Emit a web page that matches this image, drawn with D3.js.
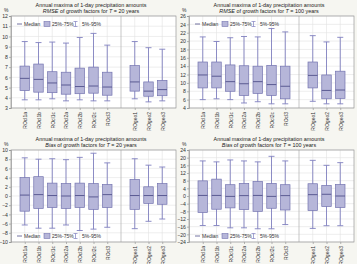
<!DOCTYPE html>
<html>
  <head>
    <meta charset="utf-8" />
    <script src="https://d3js.org/d3.v7.min.js"></script>
    <style>
      body { margin: 0; background: #f6f6f1; }
      svg { display: block; font-family: "Liberation Sans", Arial, sans-serif; }
    </style>
  </head>
  <body>
    <div id="chart"></div>
    <script>
      // categories (slot 8 is left empty as a separator)
      const categories = ["ROcl1a", "ROcl1b", "ROcl1c", "ROcl2a", "ROcl2b", "ROcl2c", "ROcl3", "ROgeo1", "ROgeo2", "ROgeo3"];
      const slots = [1, 2, 3, 4, 5, 6, 7, 9, 10, 11];

      // each row: [5%, 25%, median, 75%, 95%]
      const rmse20 = [
        [3.8, 4.7, 5.9, 7.1, 9.5],
        [3.8, 4.55, 5.8, 7.3, 9.4],
        [3.9, 4.5, 5.45, 6.55, 9.45],
        [3.7, 4.35, 5.25, 6.5, 9.35],
        [3.8, 4.4, 5.1, 6.9, 9.9],
        [3.7, 4.45, 5.15, 7.0, 10.3],
        [3.7, 4.25, 5.05, 6.5, 9.15],
        [3.9, 4.65, 5.55, 7.15, 9.5],
        [3.6, 4.15, 4.65, 5.55, 8.9],
        [3.7, 4.2, 4.8, 5.7, 8.75],
      ];
      const rmse100 = [
        [6, 8.8, 11.9, 15, 21],
        [6.2, 8.8, 11.6, 15, 19.9],
        [6, 8, 10.3, 14.3, 20.8],
        [5.2, 7, 9.8, 14.1, 21.1],
        [5.5, 7.5, 10.3, 14, 21],
        [5, 7, 9.6, 14.2, 23],
        [5, 6.2, 9.2, 14, 22.2],
        [5.6, 8.8, 11.8, 15, 21.3],
        [5, 6.2, 8.2, 11.9, 19.8],
        [5, 6.3, 8.3, 12.8, 20.9],
      ];
      const bias20 = [
        [-6.3, -3.3, 0.2, 4.0, 8.3],
        [-7.0, -2.7, 0.3, 4.2, 8.0],
        [-7.0, -2.5, 0.1, 2.8, 8.1],
        [-6.3, -2.7, 0.0, 2.7, 7.9],
        [-7.5, -2.5, 0.1, 2.8, 8.4],
        [-7.2, -2.9, -0.2, 2.7, 9.3],
        [-6.8, -2.5, 0.3, 2.5, 7.2],
        [-7.1, -2.9, 0.1, 3.6, 8.1],
        [-5.5, -1.6, 0.1, 2.0, 6.7],
        [-5.0, -1.8, 0.1, 2.7, 6.3],
      ];
      const bias100 = [
        [-15.4, -8.6, 0.3, 7.9, 18.3],
        [-15.4, -6.9, 0.3, 8.8, 17.8],
        [-16.6, -6.2, -0.2, 5.9, 18.8],
        [-16.6, -7.1, 0.2, 6.6, 18.3],
        [-17.1, -8.0, 0.3, 7.6, 17.8],
        [-17.1, -6.4, -0.2, 6.6, 20.7],
        [-14.9, -7.3, 0.2, 5.9, 18.3],
        [-16.9, -7.6, 0.7, 6.4, 18.6],
        [-15.5, -5.5, 0.9, 5.5, 16.0],
        [-15.5, -6.0, 0.0, 6.0, 17.4],
      ];

      const panels = [
        { data: rmse20, x: 0, y: 0, domain: [3, 12], ticks: d3.range(3, 13, 1), stat: "RMSE", T: "20", legend: "top" },
        { data: rmse100, x: 178, y: 0, domain: [4, 26], ticks: d3.range(4, 27, 2), stat: "RMSE", T: "100", legend: "top" },
        { data: bias20, x: 0, y: 134, domain: [-10, 10], ticks: d3.range(-10, 11, 2), stat: "Bias", T: "20", legend: "bottom" },
        { data: bias100, x: 178, y: 134, domain: [-24, 24], ticks: d3.range(-24, 25, 4), stat: "Bias", T: "100", legend: "bottom" },
      ];

      const W = 357, H = 264;
      const pw = 165, ph = 92;
      const fill = "#b6b6d9", stroke = "#7474b0", whisk = "#8080c0", med = "#50508a";

      const svg = d3.select("#chart").append("svg").attr("width", W).attr("height", H);

      panels.forEach((p) => {
        const g = svg.append("g").attr("transform", `translate(${p.x + 11},${p.y + 16})`);
        const x = d3.scaleLinear().domain([0, 12]).range([0, pw]);
        const y = d3.scaleLinear().domain(p.domain).range([ph, 0]);

        g.append("rect").attr("width", pw).attr("height", ph).attr("fill", "#fff");

        // grid
        g.selectAll(".hg").data(p.ticks).enter().append("line")
          .attr("x1", 0).attr("x2", pw)
          .attr("y1", (d) => y(d)).attr("y2", (d) => y(d))
          .attr("stroke", "#e2e2e2").attr("stroke-width", 0.6);
        g.selectAll(".vg").data(slots).enter().append("line")
          .attr("x1", (d) => x(d)).attr("x2", (d) => x(d))
          .attr("y1", 0).attr("y2", ph)
          .attr("stroke", "#e2e2e2").attr("stroke-width", 0.6);
        g.append("line").attr("x1", x(8)).attr("x2", x(8)).attr("y1", 0).attr("y2", ph)
          .attr("stroke", "#b0b0b0").attr("stroke-width", 0.7);

        // axes
        const ya = g.append("g").call(d3.axisLeft(y).tickValues(p.ticks).tickSize(2).tickPadding(1));
        ya.selectAll("text").attr("font-size", 5.2).attr("fill", "#333");
        ya.selectAll("line, path").attr("stroke", "#888").attr("stroke-width", 0.6);

        const xa = g.append("g").attr("transform", `translate(0,${ph})`)
          .call(d3.axisBottom(x).tickValues(slots).tickSize(2).tickFormat((d, i) => categories[i]));
        xa.select(".domain").remove();
        xa.selectAll("line").attr("stroke", "#888").attr("stroke-width", 0.6);
        xa.selectAll("text").attr("font-size", 5).attr("fill", "#333")
          .attr("transform", "rotate(-90)").attr("text-anchor", "end")
          .attr("x", -4).attr("y", 0).attr("dy", "0.35em");

        g.append("rect").attr("width", pw).attr("height", ph).attr("fill", "none")
          .attr("stroke", "#999").attr("stroke-width", 0.7);

        // boxes
        const bw = 9.5, cw = 6;
        const box = g.selectAll(".box").data(p.data).enter().append("g")
          .attr("transform", (d, i) => `translate(${x(slots[i])},0)`);
        box.append("line").attr("y1", (d) => y(d[0])).attr("y2", (d) => y(d[4]))
          .attr("stroke", whisk).attr("stroke-width", 0.9);
        box.append("line").attr("x1", -cw / 2).attr("x2", cw / 2)
          .attr("y1", (d) => y(d[0])).attr("y2", (d) => y(d[0]))
          .attr("stroke", whisk).attr("stroke-width", 0.9);
        box.append("line").attr("x1", -cw / 2).attr("x2", cw / 2)
          .attr("y1", (d) => y(d[4])).attr("y2", (d) => y(d[4]))
          .attr("stroke", whisk).attr("stroke-width", 0.9);
        box.append("rect").attr("x", -bw / 2).attr("width", bw)
          .attr("y", (d) => y(d[3])).attr("height", (d) => y(d[1]) - y(d[3]))
          .attr("fill", fill).attr("stroke", stroke).attr("stroke-width", 0.7);
        box.append("line").attr("x1", -bw / 2).attr("x2", bw / 2)
          .attr("y1", (d) => y(d[2])).attr("y2", (d) => y(d[2]))
          .attr("stroke", med).attr("stroke-width", 0.9);

        // legend
        const ly = p.legend === "top" ? 8 : ph - 6;
        const lg = g.append("g").attr("transform", `translate(0,${ly})`).attr("font-size", 5).attr("fill", "#333");
        lg.append("line").attr("x1", 6).attr("x2", 11).attr("stroke", med).attr("stroke-width", 0.8);
        lg.append("text").attr("x", 13).attr("dy", "0.35em").text("Median");
        lg.append("rect").attr("x", 33).attr("y", -2.5).attr("width", 6).attr("height", 5)
          .attr("fill", fill).attr("stroke", stroke).attr("stroke-width", 0.6);
        lg.append("text").attr("x", 41).attr("dy", "0.35em").text("25%-75%");
        lg.append("line").attr("x1", 64.5).attr("x2", 64.5).attr("y1", -2.5).attr("y2", 2.5).attr("stroke", whisk).attr("stroke-width", 0.7);
        lg.append("line").attr("x1", 62.5).attr("x2", 66.5).attr("y1", -2.5).attr("y2", -2.5).attr("stroke", whisk).attr("stroke-width", 0.7);
        lg.append("line").attr("x1", 62.5).attr("x2", 66.5).attr("y1", 2.5).attr("y2", 2.5).attr("stroke", whisk).attr("stroke-width", 0.7);
        lg.append("text").attr("x", 71).attr("dy", "0.35em").text("5%-95%");

        // titles
        const tg = svg.append("g").attr("font-size", 5.4).attr("fill", "#222").attr("text-anchor", "middle");
        tg.append("text").attr("x", p.x + 91).attr("y", p.y + 7).text("Annual maxima of 1-day precipitation amounts");
        const t2 = tg.append("text").attr("x", p.x + 91).attr("y", p.y + 13);
        t2.append("tspan").attr("font-style", "italic").text(p.stat);
        t2.append("tspan").text(" of growth factors for ");
        t2.append("tspan").attr("font-style", "italic").text("T");
        t2.append("tspan").text(` = ${p.T} years`);

        svg.append("text").attr("x", p.x + 4).attr("y", p.y + 12).attr("font-size", 5).attr("fill", "#333").text("%");
      });
    </script>
  </body>
</html>
